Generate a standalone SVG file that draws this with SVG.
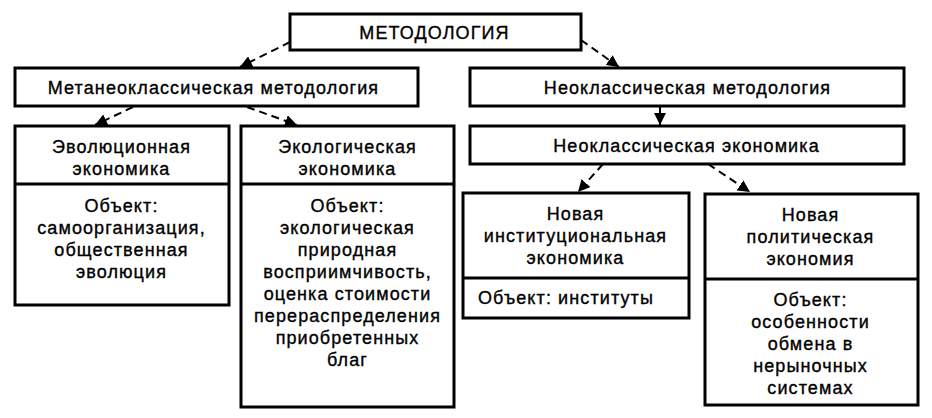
<svg xmlns="http://www.w3.org/2000/svg" width="932" height="418" viewBox="0 0 932 418">
<style>
.box{fill:#fff;stroke:#000;stroke-width:3}
.div{stroke:#000;stroke-width:3}
text{font-family:"Liberation Sans",Arial,sans-serif;font-size:18px;letter-spacing:1.1px;fill:#000;stroke:#000;stroke-width:0.35px}
.c{text-anchor:middle}
.con{stroke:#000;stroke-width:2;fill:none}
.dash{stroke-dasharray:8 5}
</style>
<defs>
<marker id="ah" markerUnits="userSpaceOnUse" markerWidth="12" markerHeight="12" viewBox="0 0 12 12" refX="12" refY="6" orient="auto">
<path d="M0,0 L12,6 L0,12 z" fill="#000"/>
</marker>
</defs>
<rect width="932" height="418" fill="#fff"/>
<g id="connectors">
<line class="con dash" x1="290" y1="42" x2="240" y2="67" marker-end="url(#ah)"/>
<line class="con dash" x1="581" y1="40" x2="619" y2="67" marker-end="url(#ah)"/>
<line class="con dash" x1="133" y1="107" x2="95" y2="125" marker-end="url(#ah)"/>
<line class="con dash" x1="247" y1="107" x2="297" y2="125" marker-end="url(#ah)"/>
<line class="con" x1="660" y1="106" x2="660" y2="125" marker-end="url(#ah)"/>
<line class="con dash" x1="603" y1="164" x2="578" y2="192" marker-end="url(#ah)"/>
<line class="con dash" x1="708" y1="164" x2="750" y2="192" marker-end="url(#ah)"/>
</g>
<g id="root">
<rect class="box" x="290" y="14" width="291" height="36"/>
<text class="c" x="434.5" y="39">МЕТОДОЛОГИЯ</text>
</g>
<g id="metaneo">
<rect class="box" x="15" y="68" width="403" height="38"/>
<text class="c" x="213.5" y="94">Метанеоклассическая методология</text>
</g>
<g id="neo-method">
<rect class="box" x="470" y="68" width="434" height="38"/>
<text class="c" x="687.5" y="94">Неоклассическая методология</text>
</g>
<g id="neo-econ">
<rect class="box" x="470" y="126" width="434" height="38"/>
<text class="c" x="686.5" y="152">Неоклассическая экономика</text>
</g>
<g id="evol">
<rect class="box" x="15" y="126" width="214" height="179"/>
<line class="div" x1="15" y1="184" x2="229" y2="184"/>
<text class="c" x="121.5" y="153">Эволюционная</text>
<text class="c" x="121.5" y="175">экономика</text>
<text class="c" x="121.5" y="212">Объект:</text>
<text class="c" x="121.5" y="234">самоорганизация,</text>
<text class="c" x="121.5" y="256">общественная</text>
<text class="c" x="121.5" y="278">эволюция</text>
</g>
<g id="ecol">
<rect class="box" x="241" y="126" width="213" height="281"/>
<line class="div" x1="241" y1="184" x2="454" y2="184"/>
<text class="c" x="347.5" y="153">Экологическая</text>
<text class="c" x="347.5" y="175">экономика</text>
<text class="c" x="347.5" y="212">Объект:</text>
<text class="c" x="347.5" y="234">экологическая</text>
<text class="c" x="347.5" y="256">природная</text>
<text class="c" x="347.5" y="278">восприимчивость,</text>
<text class="c" x="347.5" y="300">оценка стоимости</text>
<text class="c" x="347.5" y="322">перераспределения</text>
<text class="c" x="347.5" y="344">приобретенных</text>
<text class="c" x="347.5" y="366">благ</text>
</g>
<g id="new-inst">
<rect class="box" x="463" y="193" width="226" height="125"/>
<line class="div" x1="463" y1="278" x2="689" y2="278"/>
<text class="c" x="575.5" y="220">Новая</text>
<text class="c" x="575.5" y="242">институциональная</text>
<text class="c" x="575.5" y="264">экономика</text>
<text x="478" y="304">Объект: институты</text>
</g>
<g id="new-pol">
<rect class="box" x="705" y="194" width="213" height="211"/>
<line class="div" x1="705" y1="279" x2="918" y2="279"/>
<text class="c" x="810.5" y="221">Новая</text>
<text class="c" x="810.5" y="243">политическая</text>
<text class="c" x="810.5" y="265">экономия</text>
<text class="c" x="810.5" y="306">Объект:</text>
<text class="c" x="810.5" y="328">особенности</text>
<text class="c" x="810.5" y="350">обмена в</text>
<text class="c" x="810.5" y="372">нерыночных</text>
<text class="c" x="810.5" y="394">системах</text>
</g>
</svg>
